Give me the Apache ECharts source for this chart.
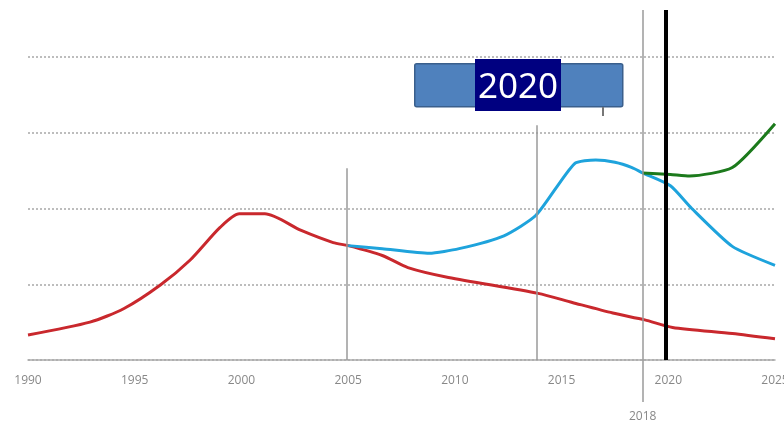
<!DOCTYPE html>
<html>
<head>
<meta charset="utf-8">
<title>2020</title>
<script src="https://cdn.jsdelivr.net/npm/echarts@6/dist/echarts.min.js"></script>
<style>
  * { margin: 0; padding: 0; }
  body { background: #fff; }
  #main { width: 784px; height: 423px; }
</style>
</head>
<body>
<div id="main"></div>
<script>
// tick labels on the x axis
var xTicks = [1990, 1995, 2000, 2005, 2010, 2015, 2020, 2025];

// red line
var redYears  = [1990, 1992.9, 1994.5, 1996.2, 1997.6, 1999.0, 1999.9, 2001.1, 2002.8, 2004.3, 2005, 2006.6, 2007.8, 2009.7, 2013.9, 2015.5, 2017.4, 2018.9, 2020.2, 2023.0, 2025];
var redVals   = [0.33, 0.50, 0.68, 0.99, 1.32, 1.75, 1.93, 1.93, 1.71, 1.55, 1.51, 1.38, 1.22, 1.09, 0.88, 0.76, 0.62, 0.53, 0.43, 0.35, 0.28];

// blue line
var blueYears = [2005, 2006.6, 2008.8, 2010.2, 2012.3, 2013.8, 2015.6, 2016.6, 2017.5, 2018.3, 2018.8, 2020.1, 2021.1, 2023.0, 2025];
var blueVals  = [1.51, 1.47, 1.41, 1.47, 1.64, 1.91, 2.59, 2.64, 2.61, 2.54, 2.47, 2.30, 2.00, 1.50, 1.25];

// green line
var greenYears = [2018.8, 2020.1, 2021.0, 2023.0, 2025];
var greenVals  = [2.47, 2.45, 2.43, 2.54, 3.12];

// reference lines: [x, from, to]
var refLines = [
  [2004.94, 0, 2.53],
  [2013.84, 0, 3.1]
];
var line2018 = [2018.8, -0.554, 4.62];
var line2020 = [2019.9, 0, 4.62];

function pairs(xs, ys) {
  var out = [];
  for (var i = 0; i < xs.length; i++) out.push([xs[i], ys[i]]);
  return out;
}

var myChart = echarts.init(document.getElementById('main'));

var marks = [];
for (var i = 0; i < refLines.length; i++) {
  marks.push([
    { coord: [refLines[i][0], refLines[i][1]], lineStyle: { color: '#9a9a9a', width: 1.5, type: 'solid' } },
    { coord: [refLines[i][0], refLines[i][2]] }
  ]);
}
marks.push([
  { coord: [line2018[0], line2018[1]], lineStyle: { color: '#9a9a9a', width: 1.5, type: 'solid' },
    label: { show: true, position: 'start', formatter: '2018', distance: 9,
             color: '#888', fontFamily: 'Open Sans', fontSize: 12 } },
  { coord: [line2018[0], line2018[2]] }
]);
marks.push([
  { coord: [line2020[0], line2020[1]], lineStyle: { color: '#000', width: 4, type: 'solid' } },
  { coord: [line2020[0], line2020[2]] }
]);

var option = {
  animation: false,
  grid: { left: 28, right: 9, top: 10, bottom: 21, outerBoundsMode: 'none' },
  xAxis: {
    type: 'value',
    min: 1990,
    max: 2025,
    interval: 5,
    offset: -42,
    axisLine: { show: true, onZero: false, lineStyle: { color: '#aaa', width: 1.5 } },
    axisTick: { show: false },
    splitLine: { show: false },
    axisLabel: {
      color: '#888', fontFamily: 'Open Sans', fontSize: 12, margin: 15,
      formatter: function (v) { return xTicks.indexOf(v) >= 0 ? String(v) : ''; }
    }
  },
  yAxis: {
    type: 'value',
    min: -0.554,
    max: 4.62,
    minInterval: 1,
    maxInterval: 1,
    axisLine: { show: false },
    axisTick: { show: false },
    axisLabel: { show: false },
    splitLine: {
      show: true, showMinLine: false, showMaxLine: false,
      lineStyle: { color: '#bdbdbd', width: 2, type: [2, 2] }
    }
  },
  series: [
    {
      type: 'line', data: pairs(redYears, redVals), smooth: 0.25,
      symbol: 'none', lineStyle: { color: '#c9282d', width: 3 }, z: 2
    },
    {
      type: 'line', data: pairs(blueYears, blueVals), smooth: 0.2,
      symbol: 'none', lineStyle: { color: '#1ea3dc', width: 3 }, z: 2
    },
    {
      type: 'line', data: pairs(greenYears, greenVals), smooth: 0.2,
      symbol: 'none', lineStyle: { color: '#1c7a1c', width: 3 }, z: 3,
      markLine: {
        silent: true,
        symbol: ['none', 'none'],
        label: { show: false },
        data: marks
      }
    }
  ],
  graphic: [
    {
      type: 'rect', left: 414, top: 63, z: 10,
      shape: { width: 208, height: 43, r: 2 },
      style: { fill: '#4f81bd', stroke: '#3a5f8c', lineWidth: 1.5 }
    },
    {
      type: 'line', z: 10,
      shape: { x1: 603, y1: 107, x2: 603, y2: 116 },
      style: { stroke: '#777', lineWidth: 2 }
    },
    {
      type: 'rect', left: 475, top: 59, z: 11,
      shape: { width: 86, height: 52 },
      style: { fill: '#000080' }
    },
    {
      type: 'text', z: 12, x: 518, y: 88,
      style: { text: '2020', fill: '#fff', font: '35px "Noto Sans"', align: 'center', verticalAlign: 'middle' }
    }
  ]
};

myChart.setOption(option);
</script>
</body>
</html>
